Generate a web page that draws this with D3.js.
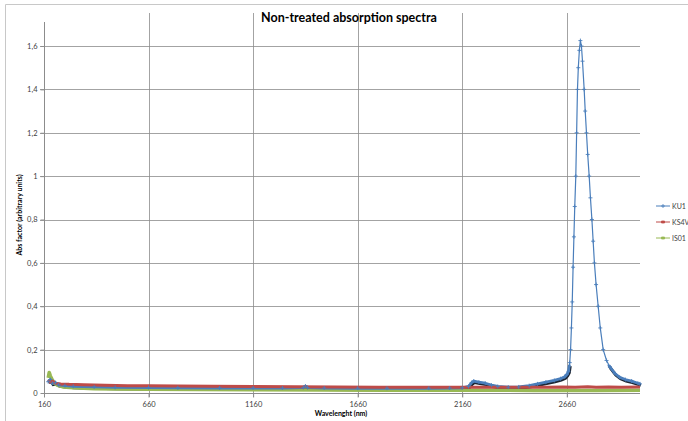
<!DOCTYPE html>
<html>
<head>
<meta charset="utf-8">
<script src="https://cdn.jsdelivr.net/npm/d3@7"></script>
<style>
  body { margin: 0; background: #fff; }
  text { font-family: Lato, "Open Sans", sans-serif; }
</style>
</head>
<body>
<div id="chart"></div>
<script>
// wavelength / absorption pairs
const ku1 = [
  [180, 0.052], [190, 0.062], [200, 0.045], [215, 0.048], [230, 0.038], [260, 0.034], [300, 0.031],
  [400, 0.028], [500, 0.026], [660, 0.025], [800, 0.024], [1000, 0.023], [1160, 0.023], [1300, 0.023],
  [1400, 0.025], [1410, 0.032], [1420, 0.025], [1500, 0.023], [1660, 0.022], [1800, 0.022], [2000, 0.022],
  [2100, 0.023], [2160, 0.024], [2190, 0.03], [2205, 0.048], [2215, 0.055], [2240, 0.05], [2270, 0.045],
  [2300, 0.036], [2330, 0.03], [2380, 0.027], [2430, 0.028], [2480, 0.034], [2520, 0.042], [2560, 0.05],
  [2600, 0.058], [2630, 0.066], [2650, 0.075], [2660, 0.085], [2668, 0.1], [2674, 0.14], [2678, 0.2],
  [2682, 0.3], [2686, 0.42], [2690, 0.58], [2694, 0.72], [2698, 0.86], [2703, 1.0], [2707, 1.2],
  [2711, 1.4], [2715, 1.5], [2720, 1.58], [2725, 1.625], [2730, 1.6], [2735, 1.53], [2743, 1.4],
  [2748, 1.3], [2754, 1.2], [2760, 1.1], [2767, 1.0], [2773, 0.9], [2780, 0.8], [2786, 0.7],
  [2792, 0.6], [2800, 0.5], [2810, 0.4], [2820, 0.3], [2834, 0.2], [2850, 0.15], [2866, 0.12],
  [2890, 0.09], [2913, 0.072], [2940, 0.062], [2970, 0.055], [3000, 0.045], [3010, 0.042]
];
const ks4v = [
  [180, 0.06], [190, 0.05], [200, 0.055], [215, 0.045], [240, 0.042], [280, 0.04], [350, 0.038],
  [450, 0.036], [560, 0.034], [660, 0.033], [800, 0.032], [960, 0.031], [1160, 0.03], [1360, 0.029],
  [1560, 0.028], [1760, 0.027], [1960, 0.027], [2160, 0.026], [2360, 0.026], [2560, 0.026], [2640, 0.028],
  [2700, 0.026], [2760, 0.029], [2800, 0.026], [2860, 0.028], [2920, 0.027], [3010, 0.028]
];
const is01 = [
  [180, 0.07], [185, 0.095], [190, 0.08], [200, 0.06], [210, 0.045], [225, 0.035], [250, 0.028],
  [300, 0.024], [400, 0.02], [500, 0.018], [660, 0.017], [900, 0.016], [1160, 0.015], [1500, 0.014],
  [1800, 0.013], [2160, 0.013], [2500, 0.012], [2800, 0.012], [3010, 0.013]
];
const seriesNames = ["KU1", "KS4V", "IS01"];
const xTicks = [160, 660, 1160, 1660, 2160, 2660];
const yTicks = [0, 0.2, 0.4, 0.6, 0.8, 1, 1.2, 1.4, 1.6];

const pars = {
  width: 688, height: 421,
  left: 44, right: 640, top: 13, bottom: 393,
  colors: ["#4a7ebb", "#be4b48", "#98b954"],
  grid: "#8c8c8c"
};

const svg = d3.select("#chart").append("svg")
  .attr("width", pars.width)
  .attr("height", pars.height);

// chart area border
svg.append("path")
  .attr("d", `M5.5,${pars.height} V4.5 H${pars.width}`)
  .attr("fill", "none")
  .attr("stroke", "#c8c8c8");

const x = d3.scaleLinear().domain([160, 3010]).range([pars.left, pars.right]);
const y = d3.scaleLinear().domain([0, 1.6]).range([pars.bottom, 46]);

// gridlines
svg.append("g").selectAll("line.h")
  .data(yTicks.filter(d => d > 0))
  .enter().append("line")
  .attr("x1", pars.left - 4).attr("x2", pars.right)
  .attr("y1", d => Math.round(y(d)) + 0.5).attr("y2", d => Math.round(y(d)) + 0.5)
  .attr("stroke", pars.grid).attr("stroke-width", 0.8);

svg.append("g").selectAll("line.v")
  .data(xTicks.filter(d => d > 160))
  .enter().append("line")
  .attr("x1", d => Math.round(x(d)) + 0.5).attr("x2", d => Math.round(x(d)) + 0.5)
  .attr("y1", pars.top).attr("y2", pars.bottom + 4)
  .attr("stroke", pars.grid).attr("stroke-width", 0.8);

// axes
const xAxis = svg.append("g")
  .attr("transform", `translate(0,${pars.bottom + 0.5})`)
  .call(d3.axisBottom(x).tickValues(xTicks).tickSize(4).tickFormat(d3.format("d")));
const yAxis = svg.append("g")
  .attr("transform", `translate(${pars.left + 0.5},0)`)
  .call(d3.axisLeft(y).tickValues(yTicks).tickSize(4).tickFormat(d => String(d).replace(".", ",")));
[xAxis, yAxis].forEach(ax => {
  ax.select(".domain").attr("stroke", pars.grid);
  ax.selectAll(".tick line").attr("stroke", pars.grid);
  ax.selectAll(".tick text")
    .attr("fill", "#404040")
    .style("font-size", "7.5px")
    .style("font-family", "Lato, sans-serif");
});
xAxis.select(".domain").attr("d", `M${pars.left},0H${pars.right}`);
yAxis.select(".domain").attr("d", `M0,${pars.bottom}V22`);
xAxis.selectAll(".tick text").attr("dy", "0.9em");

// series
const line = d3.line().x(d => x(d[0])).y(d => y(d[1]));

svg.append("clipPath").attr("id", "low")
  .append("rect")
  .attr("x", 0).attr("y", y(0.13)).attr("width", pars.width).attr("height", pars.height);

// dark edge under KU1 near the baseline
svg.append("path")
  .datum(ku1)
  .attr("clip-path", "url(#low)")
  .attr("transform", "translate(0.8,1.4)")
  .attr("d", line)
  .attr("fill", "none")
  .attr("stroke", "#1c2430")
  .attr("stroke-width", 3);

svg.append("path")
  .datum(is01)
  .attr("d", line)
  .attr("fill", "none")
  .attr("stroke", pars.colors[2])
  .attr("stroke-width", 3.5)
  .attr("stroke-linejoin", "round");

svg.append("path")
  .datum(ku1)
  .attr("d", line)
  .attr("fill", "none")
  .attr("stroke", pars.colors[0])
  .attr("stroke-width", 1.2)
  .attr("stroke-linejoin", "round");

svg.append("path")
  .datum(ku1)
  .attr("clip-path", "url(#low)")
  .attr("d", line)
  .attr("fill", "none")
  .attr("stroke", pars.colors[0])
  .attr("stroke-width", 2.8)
  .attr("stroke-linejoin", "round");

svg.append("path")
  .datum(ks4v)
  .attr("d", line)
  .attr("fill", "none")
  .attr("stroke", pars.colors[1])
  .attr("stroke-width", 3)
  .attr("stroke-linejoin", "round");

// KU1 markers
svg.append("g").selectAll("path")
  .data(ku1)
  .enter().append("path")
  .attr("d", "M-2,0H2M0,-2V2")
  .attr("transform", d => `translate(${x(d[0])},${y(d[1])})`)
  .attr("stroke", pars.colors[0])
  .attr("stroke-width", 0.9);

// title and axis titles
svg.append("text")
  .attr("x", 349).attr("y", 22)
  .attr("text-anchor", "middle")
  .style("font-size", "12.5px").style("font-weight", "bold")
  .attr("fill", "#000")
  .text("Non-treated absorption spectra");

svg.append("text")
  .attr("transform", "translate(22,215) rotate(-90)")
  .attr("text-anchor", "middle")
  .style("font-size", "7px").style("font-weight", "bold")
  .attr("fill", "#000")
  .text("Abs factor (arbitrary units)");

svg.append("text")
  .attr("x", 341).attr("y", 416)
  .attr("text-anchor", "middle")
  .style("font-size", "7px").style("font-weight", "bold")
  .attr("fill", "#000")
  .text("Wavelenght (nm)");

// legend
const legend = svg.append("g").selectAll("g")
  .data(seriesNames)
  .enter().append("g")
  .attr("transform", (d, i) => `translate(656,${206 + i * 16})`);
legend.append("line")
  .attr("x1", 0).attr("x2", 14)
  .attr("stroke", (d, i) => pars.colors[i])
  .attr("stroke-width", 1);
legend.append("path")
  .attr("d", (d, i) => i === 0 ? "M5,0H9M7,-2V2" : "M5.5,-1H8.5V1H5.5Z")
  .attr("fill", (d, i) => pars.colors[i])
  .attr("stroke", (d, i) => pars.colors[i])
  .attr("stroke-width", 0.8);
legend.append("text")
  .attr("x", 16).attr("y", 2.5)
  .style("font-size", "7px")
  .attr("fill", "#404040")
  .text(d => d);
</script>
</body>
</html>
